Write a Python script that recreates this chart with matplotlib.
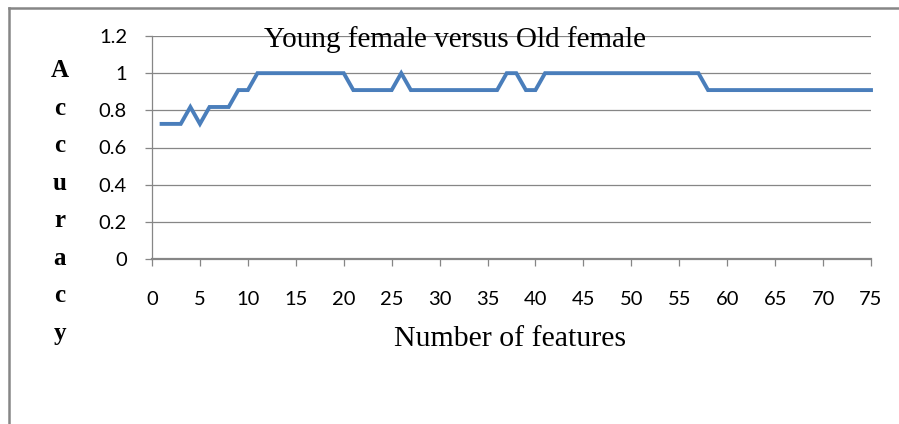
import matplotlib
matplotlib.use("Agg")
import matplotlib.pyplot as plt
from matplotlib.lines import Line2D

# accuracy vs number of features (values are k/11)
n_features = list(range(1, 76))
accuracy = ([0.727] * 3 + [0.818, 0.727] + [0.818] * 3 + [0.909] * 2
            + [1.0] * 10 + [0.909] * 5 + [1.0] + [0.909] * 10
            + [1.0] * 2 + [0.909] * 2 + [1.0] * 17 + [0.909] * 18)
x_ticks = list(range(0, 80, 5))
y_ticks = [0, 0.2, 0.4, 0.6, 0.8, 1.0, 1.2]
y_labels = ["0", "0.2", "0.4", "0.6", "0.8", "1", "1.2"]
title = "Young female versus Old female"
x_label = "Number of features"
y_label = "Accuracy"

W, H = 899, 424
grey = "#868686"
fig = plt.figure(figsize=(W / 100, H / 100), dpi=100)
ax = fig.add_axes([152 / W, 1 - 259 / H, (871 - 152) / W, (259 - 36) / H])

ax.plot(n_features, accuracy, color="#4A7EBB", linewidth=2.8,
        solid_joinstyle="miter", clip_on=False)

ax.set_xlim(0, 75)
ax.set_ylim(0, 1.2)
ax.set_xticks(x_ticks)
ax.set_yticks(y_ticks)
ax.set_yticklabels(y_labels)
ax.grid(axis="y", color=grey, linewidth=0.9)
ax.set_axisbelow(True)
for s in ["top", "right"]:
    ax.spines[s].set_visible(False)
ax.spines["left"].set_color(grey)
ax.spines["left"].set_linewidth(0.9)
ax.spines["bottom"].set_color(grey)
ax.spines["bottom"].set_linewidth(1.6)
ax.tick_params(axis="y", length=5, width=0.9, color=grey, pad=13,
               labelsize=14.5)
ax.tick_params(axis="x", length=5, width=0.9, color=grey, pad=18,
               labelsize=14.5)
for lab in ax.get_xticklabels() + ax.get_yticklabels():
    lab.set_fontfamily("Lato")

fig.text(455 / W, 1 - 47 / H, title, family="Liberation Serif",
         fontsize=21, ha="center", va="baseline")
fig.text(510 / W, 1 - 346 / H, x_label, family="Liberation Serif",
         fontsize=21.5, ha="center", va="baseline")
fig.text(60 / W, 1 - 202 / H, "\n".join(y_label), family="Liberation Serif",
         fontweight="bold", fontsize=18, ha="center", va="center",
         multialignment="center", linespacing=1.81)

# chart area border (only left and top edges fall inside the image)
fig.add_artist(Line2D([9 / W, 9 / W], [0, 1 - 8 / H], transform=fig.transFigure,
                      color=grey, linewidth=1.8, solid_capstyle="projecting"))
fig.add_artist(Line2D([9 / W, 1], [1 - 8 / H, 1 - 8 / H], transform=fig.transFigure,
                      color=grey, linewidth=1.8, solid_capstyle="projecting"))

fig.savefig("out.png", dpi=100)
